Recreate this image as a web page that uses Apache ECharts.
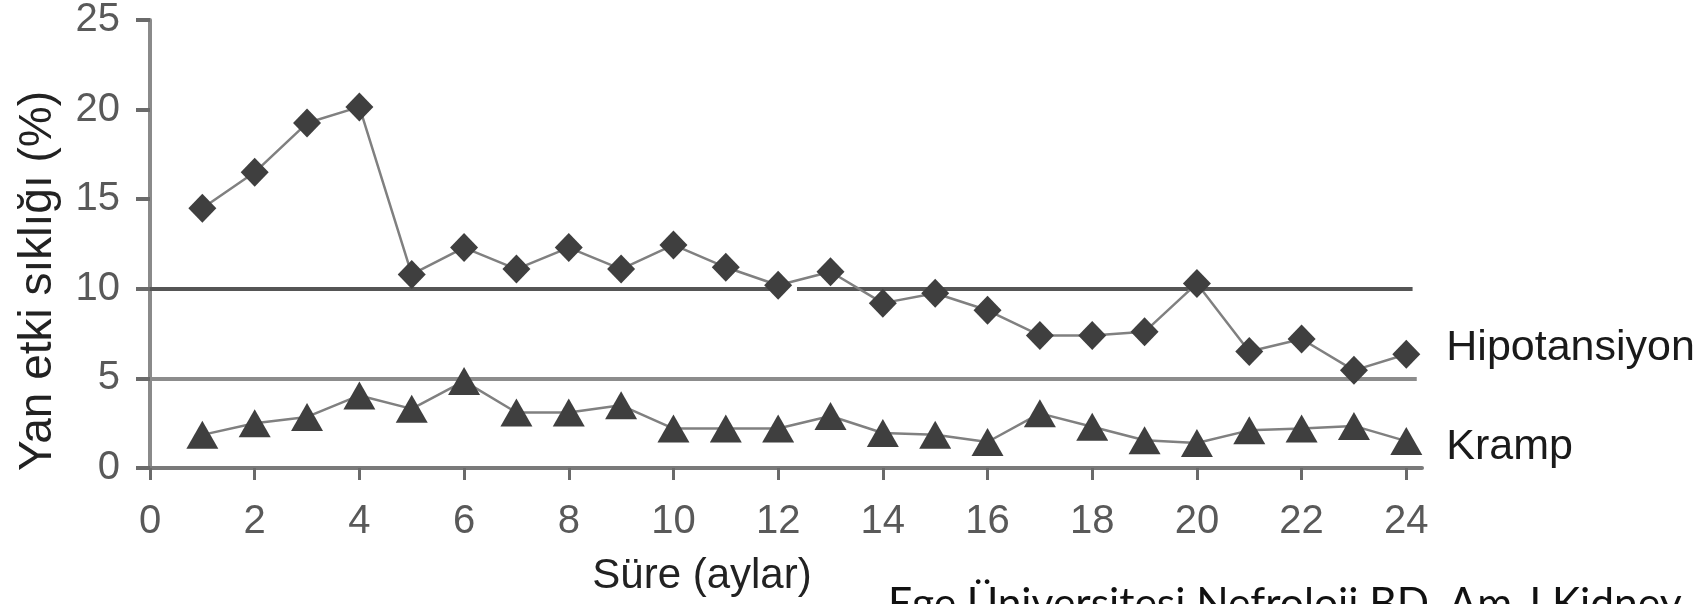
<!DOCTYPE html>
<html>
<head>
<meta charset="utf-8">
<script src="https://cdn.jsdelivr.net/npm/echarts@6/dist/echarts.min.js"></script>
<style>
html,body{margin:0;padding:0;background:#fff;}
#c{width:1708px;height:604px;}
</style>
</head>
<body>
<div id="c"></div>
<script>
// ---- data ----
var months = [1,2,3,4,5,6,7,8,9,10,11,12,13,14,15,16,17,18,19,20,21,22,23,24];
var hipotansiyon = [14.5,16.5,19.25,20.15,10.8,12.3,11.1,12.3,11.1,12.45,11.2,10.2,10.95,9.2,9.75,8.8,7.4,7.4,7.6,10.3,6.5,7.2,5.45,6.35];
var kramp = [1.85,2.5,2.85,4.05,3.3,4.85,3.1,3.1,3.5,2.2,2.2,2.2,2.9,1.95,1.85,1.45,3.05,2.3,1.55,1.4,2.1,2.2,2.35,1.5];
var xTicks = [0,2,4,6,8,10,12,14,16,18,20,22,24];
var yTicks = [0,5,10,15,20,25];
var seriesNames = ['Hipotansiyon','Kramp'];
var refLevels = [10,5];
var yTitle = 'Yan etki sıklığı (%)';
var xTitle = 'Süre (aylar)';
var sourceNote = 'Ege Üniversitesi Nefroloji BD, Am J Kidney';

function pairs(xs, ys){ return xs.map(function(x,i){ return [x, ys[i]]; }); }

var chart = echarts.init(document.getElementById('c'), null, {renderer:'canvas'});
var font = 'Liberation Sans, Arial, sans-serif';

chart.setOption({
  animation: false,
  backgroundColor: '#ffffff',
  grid: {left:150, right:286, top:20, bottom:136, containLabel:false},
  xAxis: {
    type:'value', min:0, max:24.3,
    axisLine:{show:true, lineStyle:{color:'#7a7a7a', width:4}},
    axisTick:{show:true, customValues:xTicks, length:12, lineStyle:{color:'#6a6a6a', width:3}},
    axisLabel:{customValues:xTicks, fontSize:40, color:'#595959', fontFamily:font, margin:34},
    splitLine:{show:false}
  },
  yAxis: {
    type:'value', min:0, max:25, interval:5,
    axisLine:{show:true, lineStyle:{color:'#8a8a8a', width:4}},
    axisTick:{show:true, length:14, lineStyle:{color:'#6a6a6a', width:4}},
    axisLabel:{fontSize:40, color:'#595959', fontFamily:font, margin:30},
    splitLine:{show:false}
  },
  graphic: [
    {type:'text', x:38, y:281, rotation:Math.PI/2,
     style:{text:yTitle, font:'46px '+font, fill:'#222', align:'center', verticalAlign:'middle'}},
    {type:'text', x:702, y:576,
     style:{text:xTitle, font:'42px '+font, fill:'#222', align:'center', verticalAlign:'middle'}},
    {type:'text', x:888, y:583,
     style:{text:sourceNote, font:'42.5px Lato, Carlito, sans-serif', fill:'#111', align:'left', verticalAlign:'top'}}
  ],
  series: [
    {
      name: seriesNames[0], type:'line', data: pairs(months, hipotansiyon),
      symbol:'diamond', symbolSize:[28,29], z:3,
      lineStyle:{color:'#808080', width:2.5},
      itemStyle:{color:'#3f3f3f'},
      endLabel:{show:true, formatter:'{a}', fontSize:43, color:'#1a1a1a', fontFamily:font, distance:40, offset:[0,-6]},
      markLine:{
        silent:true, symbol:'none', label:{show:false}, z:1,
        lineStyle:{color:'#555', width:4, type:'solid'},
        data:[
          [{coord:[0, refLevels[0]]},{coord:[11.85, refLevels[0]]}],
          [{coord:[12.36, refLevels[0]]},{coord:[24.12, refLevels[0]]}],
          [{coord:[0, refLevels[1]], lineStyle:{color:'#8c8c8c', width:4}},{coord:[24.2, refLevels[1]]}]
        ]
      }
    },
    {
      name: seriesNames[1], type:'line', data: pairs(months, kramp),
      symbol:'triangle', symbolSize:[32,28], z:3,
      lineStyle:{color:'#808080', width:2.5},
      itemStyle:{color:'#3f3f3f'},
      endLabel:{show:true, formatter:'{a}', fontSize:43, color:'#1a1a1a', fontFamily:font, distance:40, offset:[0,6]}
    }
  ]
});
</script>
</body>
</html>
